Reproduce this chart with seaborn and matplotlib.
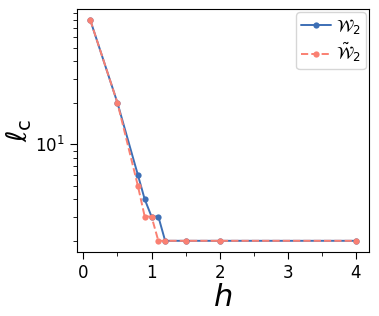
import matplotlib
matplotlib.use("Agg")
import matplotlib.pyplot as plt
import seaborn as sns
from matplotlib.ticker import MultipleLocator

sns.set_style("ticks", {"axes.edgecolor": "black", "xtick.color": "black",
                        "ytick.color": "black", "text.color": "black",
                        "axes.labelcolor": "black"})

# Data
h_values = [0.1, 0.5, 0.8, 0.9, 1.0, 1.1, 1.2, 1.5, 2.0, 4.0]
lc_w2 = [80, 20, 6, 4, 3, 3, 2, 2, 2, 2]
lc_w2_tilde = [80, 20, 5, 3, 3, 2, 2, 2, 2, 2]

fig = plt.figure(figsize=(3.79, 3.16), dpi=100)
ax = fig.add_axes([0.203, 0.203, 0.771, 0.769])

sns.lineplot(x=h_values, y=lc_w2, ax=ax, color="#3d6fb5", marker="o",
             markersize=4.5, markeredgewidth=0, linewidth=1.4,
             label=r"$\mathcal{W}_2$")
sns.lineplot(x=h_values, y=lc_w2_tilde, ax=ax, color="#fa8072", marker="o",
             markersize=4.5, markeredgewidth=0, linewidth=1.4,
             linestyle="--", label=r"$\tilde{\mathcal{W}}_2$")

ax.set_yscale("log")
ax.xaxis.set_minor_locator(MultipleLocator(0.5))
ax.set_xticks([0, 1, 2, 3, 4])
ax.tick_params(axis="both", which="major", labelsize=12, length=5,
               colors="black")
ax.tick_params(axis="both", which="minor", length=3, colors="black")

ax.set_xlabel(r"$h$", fontsize=22, labelpad=1)
ax.set_ylabel(r"$\ell_\mathrm{c}$", fontsize=20, labelpad=1)

ax.legend(loc="upper right", fontsize=12, handlelength=1.8,
          borderpad=0.3, labelspacing=0.3, handletextpad=0.3,
          borderaxespad=0.2)

fig.savefig("out.png", dpi=100)
